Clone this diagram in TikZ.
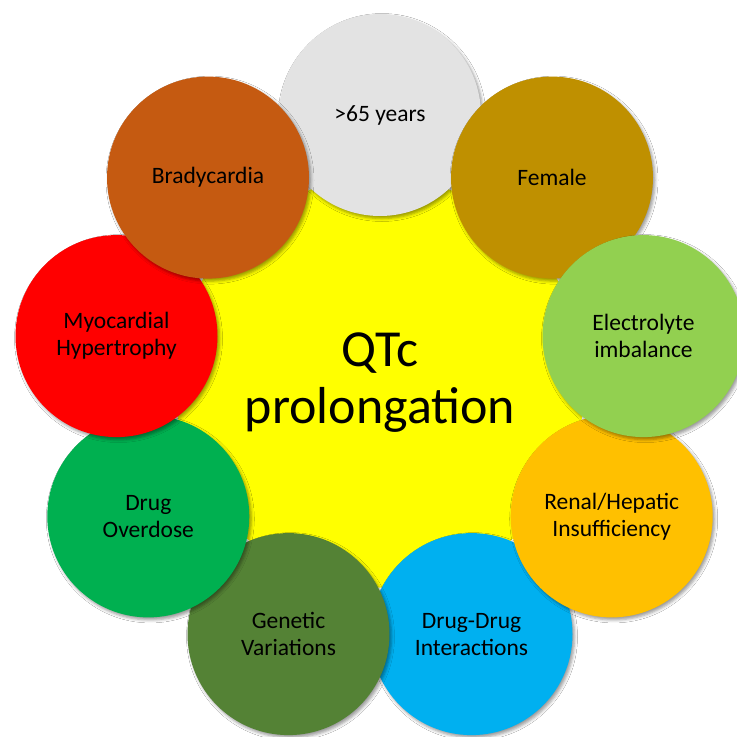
\documentclass[tikz,border=0pt]{standalone}
\usepackage{fontspec}
\setmainfont{Carlito}
\usetikzlibrary{shadows.blur}
\definecolor{cgrey}{HTML}{E3E3E3}
\definecolor{cgold}{HTML}{BF9000}
\definecolor{clime}{HTML}{92D050}
\definecolor{camber}{HTML}{FFC000}
\definecolor{csky}{HTML}{00B0F0}
\definecolor{cdkgreen}{HTML}{548235}
\definecolor{cgreen}{HTML}{00B050}
\definecolor{cred}{HTML}{FF0000}
\definecolor{cbrown}{HTML}{C55A11}
\definecolor{cyellow}{HTML}{FFFF00}
\tikzset{
  factor/.style={circle, minimum size=202pt, inner sep=0pt, align=center,
    font=\fontsize{23.5}{27}\selectfont, text=black,
    blur shadow={shadow xshift=2pt, shadow yshift=-2.5pt, shadow blur radius=3pt, shadow opacity=40}},
  hub/.style={circle, minimum size=410pt, inner sep=0pt, fill=cyellow, align=center,
    font=\fontsize{52}{58}\selectfont, text=black}
}
\begin{document}
\begin{tikzpicture}[x=1pt,y=-1pt]
\useasboundingbox (0,0) rectangle (737,737);
\fill[white] (0,0) rectangle (737,737);
\node[hub] (qtc) at (380,382.6) {};
\node[factor, fill=cgrey] (age) at (380,115) {>65 years};
\node[factor, fill=csky] (ddi) at (471.5,634.1) {Drug-Drug\\Interactions};
\node[factor, fill=cgold] (fem) at (552,177.6) {Female};
\node[factor, fill=camber] (ren) at (611.7,516.4) {Renal/Hepatic\\Insufficiency};
\node[factor, fill=clime] (ele) at (643.5,336.1) {Electrolyte\\imbalance};
\node[factor, fill=cdkgreen] (gen) at (288.5,634.1) {Genetic\\Variations};
\node[factor, fill=cgreen] (ovd) at (148.3,516.4) {Drug\\Overdose};
\node[factor, fill=cred] (myo) at (116.5,336.1) {Myocardial\\Hypertrophy};
\node[factor, fill=cbrown] (bra) at (208,177.6) {Bradycardia};
\node[align=center, font=\fontsize{52}{57}\selectfont] (lbl) at (380,383) {QTc\\prolongation};
\end{tikzpicture}
\end{document}
